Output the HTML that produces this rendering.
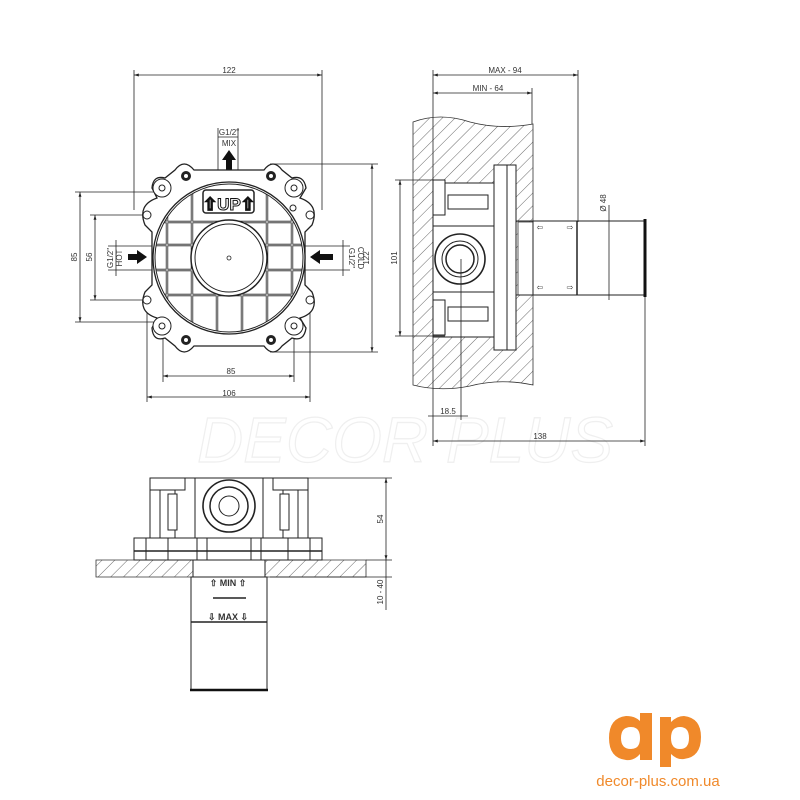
<!DOCTYPE html>
<html><head><meta charset="utf-8"><style>
html,body{margin:0;padding:0;background:#fff;}
svg{display:block;}
text{font-family:"Liberation Sans",sans-serif;fill:#333;}
</style></head><body>
<svg width="800" height="800" viewBox="0 0 800 800" xmlns="http://www.w3.org/2000/svg">
<defs>
<pattern id="h" width="9" height="9" patternUnits="userSpaceOnUse" patternTransform="rotate(45)">
<line x1="0" y1="0" x2="0" y2="9" stroke="#444" stroke-width="0.8"/></pattern>
<clipPath id="cc"><circle cx="229" cy="258" r="74"/></clipPath>
<marker id="a" viewBox="0 0 10 10" refX="10" refY="5" markerWidth="6" markerHeight="6" orient="auto-start-reverse"><path d="M0,2 L10,5 L0,8z" fill="#222"/></marker>
</defs>
<rect width="800" height="800" fill="#fff"/>

<!-- watermark -->
<text x="405" y="462" font-size="64" font-style="italic" text-anchor="middle" style="fill:none;stroke:#efefef;stroke-width:1.2">DECOR PLUS</text>

<g stroke="#222" fill="none" stroke-width="0.8">
<line x1="134" y1="75" x2="322" y2="75" marker-start="url(#a)" marker-end="url(#a)"/>
<line x1="134" y1="70" x2="134" y2="210"/><line x1="322" y1="70" x2="322" y2="210"/>
<line x1="372" y1="164" x2="372" y2="352" marker-start="url(#a)" marker-end="url(#a)"/>
<line x1="270" y1="164" x2="378" y2="164"/><line x1="270" y1="352" x2="378" y2="352"/>
<line x1="80" y1="192" x2="80" y2="322" marker-start="url(#a)" marker-end="url(#a)"/>
<line x1="75" y1="192" x2="160" y2="192"/><line x1="75" y1="322" x2="160" y2="322"/>
<line x1="95" y1="215" x2="95" y2="300" marker-start="url(#a)" marker-end="url(#a)"/>
<line x1="90" y1="215" x2="146" y2="215"/><line x1="90" y1="300" x2="146" y2="300"/>
<line x1="163" y1="376" x2="294" y2="376" marker-start="url(#a)" marker-end="url(#a)"/>
<line x1="163" y1="326" x2="163" y2="382"/><line x1="294" y1="326" x2="294" y2="382"/>
<line x1="147" y1="397" x2="310" y2="397" marker-start="url(#a)" marker-end="url(#a)"/>
<line x1="147" y1="300" x2="147" y2="402"/><line x1="310" y1="300" x2="310" y2="402"/>
<line x1="218" y1="128" x2="218" y2="182"/><line x1="238" y1="128" x2="238" y2="182"/>
<line x1="218" y1="137" x2="238" y2="137"/>
<line x1="108" y1="246" x2="155" y2="246"/><line x1="108" y1="270" x2="155" y2="270"/>
<line x1="116" y1="240" x2="116" y2="276"/>
<line x1="303" y1="246" x2="350" y2="246"/><line x1="303" y1="270" x2="350" y2="270"/>
<line x1="343" y1="240" x2="343" y2="276"/>
</g>
<g font-size="8" text-anchor="middle">
<text x="229" y="73">122</text>
<text x="229" y="135">G1/2"</text><text x="229" y="146">MIX</text>
<text x="231" y="374">85</text><text x="229" y="396">106</text>
<text transform="translate(77,257) rotate(-90)">85</text>
<text transform="translate(92,257) rotate(-90)">56</text>
<text transform="translate(113,258) rotate(-90)">G1/2"</text>
<text transform="translate(122,258) rotate(-90)">HOT</text>
<text transform="translate(349,258) rotate(90)">G1/2"</text>
<text transform="translate(358,258) rotate(90)">COLD</text>
<text transform="translate(369,258) rotate(-90)">122</text>
</g>
<path d="M229,150 L222,160 L226,160 L226,176 L232,176 L232,160 L236,160z" fill="#111"/>
<path d="M147,257 L137,250 L137,254 L128,254 L128,260 L137,260 L137,264z" fill="#111"/>
<path d="M310,257 L320,250 L320,254 L333,254 L333,260 L320,260 L320,264z" fill="#111"/>

<g stroke="#222" fill="#fff" stroke-width="1.3">
<path d="M175,170 Q184,158 194,170 L264,170 Q273,158 282,170 L292,178 Q304,175 306,188 L300,198 Q320,205 312,225 L305,232 L305,285 L312,292 Q320,312 300,318 L306,328 Q304,342 292,338 L282,346 Q273,358 264,346 L194,346 Q184,358 175,346 L165,338 Q153,342 152,328 L157,318 Q137,312 145,292 L152,285 L152,232 L145,225 Q137,205 157,198 L152,188 Q153,175 165,178z"/>
<circle cx="229" cy="258" r="76"/>
</g>
<g clip-path="url(#cc)" stroke="#222" stroke-width="1" fill="none">
<g stroke-width="2.4">
<line x1="167" y1="180" x2="167" y2="340"/><line x1="192" y1="180" x2="192" y2="340"/>
<line x1="217" y1="290" x2="217" y2="340"/><line x1="242" y1="290" x2="242" y2="340"/>
<line x1="267" y1="180" x2="267" y2="340"/><line x1="292" y1="180" x2="292" y2="340"/>
<line x1="150" y1="222" x2="310" y2="222"/><line x1="150" y1="245" x2="310" y2="245"/>
<line x1="150" y1="270" x2="310" y2="270"/><line x1="150" y1="295" x2="310" y2="295"/>
</g>
<g stroke="#fff" stroke-width="0.8">
<line x1="167" y1="180" x2="167" y2="340"/><line x1="192" y1="180" x2="192" y2="340"/>
<line x1="217" y1="290" x2="217" y2="340"/><line x1="242" y1="290" x2="242" y2="340"/>
<line x1="267" y1="180" x2="267" y2="340"/><line x1="292" y1="180" x2="292" y2="340"/>
<line x1="150" y1="222" x2="310" y2="222"/><line x1="150" y1="245" x2="310" y2="245"/>
<line x1="150" y1="270" x2="310" y2="270"/><line x1="150" y1="295" x2="310" y2="295"/>
</g>
</g>
<g stroke="#222" fill="#fff">
<circle cx="229" cy="258" r="74" fill="none" stroke-width="1"/>
<circle cx="229" cy="258" r="38" stroke-width="1.5"/>
<circle cx="229" cy="258" r="34" stroke-width="1"/>
<circle cx="229" cy="258" r="2" stroke-width="0.8"/>
<rect x="203" y="190" width="51" height="23" rx="3" stroke-width="1.5"/>
</g>
<text x="229" y="210" font-size="17" text-anchor="middle" font-weight="bold" style="fill:#fff;stroke:#111;stroke-width:1">⇧UP⇧</text>
<g stroke="#222" fill="#fff" stroke-width="1">
<circle cx="162" cy="188" r="9"/><circle cx="162" cy="188" r="3"/>
<circle cx="294" cy="188" r="9"/><circle cx="294" cy="188" r="3"/>
<circle cx="162" cy="326" r="9"/><circle cx="162" cy="326" r="3"/>
<circle cx="294" cy="326" r="9"/><circle cx="294" cy="326" r="3"/>
<circle cx="147" cy="215" r="4"/><circle cx="310" cy="215" r="4"/>
<circle cx="147" cy="300" r="4"/><circle cx="310" cy="300" r="4"/>
<circle cx="293" cy="208" r="3"/>
</g>
<g fill="#222"><circle cx="186" cy="176" r="5"/><circle cx="271" cy="176" r="5"/><circle cx="186" cy="340" r="5"/><circle cx="271" cy="340" r="5"/></g>
<g fill="#fff"><circle cx="186" cy="176" r="2"/><circle cx="271" cy="176" r="2"/><circle cx="186" cy="340" r="2"/><circle cx="271" cy="340" r="2"/></g>

<!-- SIDE VIEW -->
<path d="M413,122 Q440,112 470,122 Q500,130 533,124 L533,222 L518,222 L518,295 L533,295 L533,385 Q500,378 470,386 Q440,392 413,385z" fill="url(#h)" stroke="#333" stroke-width="0.8"/>
<g stroke="#222" stroke-width="1" fill="#fff">
<rect x="433" y="183" width="61" height="154"/>
<rect x="494" y="165" width="22" height="185"/>
<line x1="507" y1="165" x2="507" y2="350"/>
<rect x="433" y="180" width="12" height="35"/><rect x="433" y="300" width="12" height="35"/>
<rect x="448" y="195" width="40" height="14"/><rect x="448" y="307" width="40" height="14"/>
<line x1="433" y1="226" x2="494" y2="226"/><line x1="433" y1="292" x2="494" y2="292"/>
<circle cx="460" cy="259" r="25" stroke-width="1.6"/><circle cx="460" cy="259" r="18"/><circle cx="460" cy="259" r="14" stroke-width="1.5"/>
<rect x="533" y="221" width="112" height="74"/>
<line x1="516" y1="221" x2="533" y2="221"/><line x1="516" y1="295" x2="533" y2="295"/>
<line x1="577" y1="221" x2="577" y2="295" stroke-width="1.5"/>
</g>
<line x1="645" y1="219" x2="645" y2="297" stroke="#111" stroke-width="3"/>
<g font-size="8" fill="#444" text-anchor="middle"><text x="540" y="230">⇦</text><text x="570" y="230">⇨</text><text x="540" y="290">⇦</text><text x="570" y="290">⇨</text></g>
<g stroke="#222" fill="none" stroke-width="0.8">
<line x1="433" y1="75" x2="578" y2="75" marker-start="url(#a)" marker-end="url(#a)"/>
<line x1="433" y1="93" x2="532" y2="93" marker-start="url(#a)" marker-end="url(#a)"/>
<line x1="433" y1="70" x2="433" y2="446"/><line x1="578" y1="70" x2="578" y2="222"/><line x1="532" y1="88" x2="532" y2="124"/>
<line x1="400" y1="180" x2="400" y2="336" marker-start="url(#a)" marker-end="url(#a)"/>
<line x1="395" y1="180" x2="445" y2="180"/><line x1="395" y1="336" x2="445" y2="336"/>
<line x1="433" y1="441" x2="645" y2="441" marker-start="url(#a)" marker-end="url(#a)"/>
<line x1="645" y1="297" x2="645" y2="446"/>
<line x1="428" y1="416" x2="468" y2="416"/>
<line x1="461" y1="259" x2="461" y2="420"/>
<line x1="609" y1="205" x2="609" y2="300"/>
</g>
<g font-size="8" text-anchor="middle">
<text x="505" y="73">MAX - 94</text><text x="488" y="91">MIN - 64</text>
<text transform="translate(397,258) rotate(-90)">101</text>
<text x="448" y="414">18.5</text><text x="540" y="439">138</text>
<text transform="translate(606,203) rotate(-90)">Ø 48</text>
</g>

<!-- BOTTOM VIEW -->
<path d="M96,560 L193,560 L193,577 L96,577z M265,560 L366,560 L366,577 L265,577z" fill="url(#h)" stroke="#333" stroke-width="0.8"/>
<g stroke="#222" stroke-width="1" fill="#fff">
<rect x="150" y="478" width="158" height="62"/>
<rect x="195" y="478" width="68" height="62"/>
<rect x="150" y="478" width="35" height="12"/><rect x="273" y="478" width="35" height="12"/>
<rect x="160" y="490" width="15" height="48"/><rect x="283" y="490" width="15" height="48"/>
<rect x="168" y="494" width="9" height="36"/><rect x="280" y="494" width="9" height="36"/>
<circle cx="229" cy="506" r="26" stroke-width="1.6"/><circle cx="229" cy="506" r="19" stroke-width="1.5"/><circle cx="229" cy="506" r="10"/>
<rect x="134" y="538" width="188" height="22"/>
<line x1="134" y1="551" x2="322" y2="551" stroke-width="1.5"/>
<line x1="146" y1="538" x2="146" y2="560"/><line x1="168" y1="538" x2="168" y2="560"/><line x1="197" y1="538" x2="197" y2="560"/><line x1="207" y1="538" x2="207" y2="560"/>
<line x1="251" y1="538" x2="251" y2="560"/><line x1="261" y1="538" x2="261" y2="560"/><line x1="288" y1="538" x2="288" y2="560"/><line x1="310" y1="538" x2="310" y2="560"/>
<rect x="191" y="577" width="76" height="113"/>
<line x1="193" y1="560" x2="193" y2="577"/><line x1="265" y1="560" x2="265" y2="577"/>
<line x1="191" y1="622" x2="267" y2="622" stroke-width="1.5"/>
<line x1="213" y1="598" x2="246" y2="598" stroke-width="1.5"/>
</g>
<line x1="190" y1="690" x2="268" y2="690" stroke="#111" stroke-width="2.5"/>
<g font-size="9" font-weight="bold" text-anchor="middle"><text x="228" y="586">⇧ MIN ⇧</text><text x="228" y="620">⇩ MAX ⇩</text></g>
<g stroke="#222" fill="none" stroke-width="0.8">
<line x1="300" y1="478" x2="392" y2="478"/><line x1="366" y1="560" x2="392" y2="560"/>
<line x1="386" y1="478" x2="386" y2="560" marker-start="url(#a)" marker-end="url(#a)"/>
<line x1="386" y1="560" x2="386" y2="610"/><line x1="270" y1="577" x2="392" y2="577"/>
</g>
<g font-size="8" text-anchor="middle">
<text transform="translate(383,519) rotate(-90)">54</text>
<text transform="translate(383,592) rotate(-90)">10 - 40</text>
</g>

<!-- LOGO -->
<g fill="#f0892a">
<path d="M640,713 L652,713 L652,760 L640,760 L640,754 Q634,761 626,760 Q609,758 609,738 Q609,718 626,716 Q635,716 640,721z M631,727 Q621,727 621,738 Q621,749 631,749 Q640,749 640,738 Q640,727 631,727z"/>
<path d="M660,717 L671,717 L671,722 Q677,716 684,716 Q701,718 701,737 Q701,757 684,759 Q677,760 671,754 L671,767 L660,767z M680,727 Q671,727 671,738 Q671,749 680,749 Q689,749 689,738 Q689,727 680,727z"/>
</g>
<text x="658" y="786" font-size="15" text-anchor="middle" style="fill:#f0892a">decor-plus.com.ua</text>
</svg>
</body></html>
